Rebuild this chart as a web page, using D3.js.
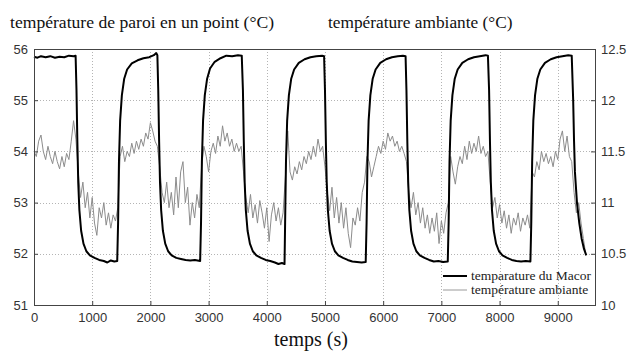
<!DOCTYPE html>
<html>
<head>
<meta charset="utf-8">
<script src="https://cdn.jsdelivr.net/npm/d3@7"></script>
<style>
  body { margin: 0; background: #fff; }
  svg { display: block; }
</style>
</head>
<body>
<div id="chart"></div>
<script>
// temps (s) / température du Macor (°C, axe gauche)
const macorTime = [
  0, 60, 120, 200, 280, 360, 440, 520, 600, 680, 715,
  730, 745, 760, 780, 810, 850, 900, 960, 1040, 1120, 1200, 1260, 1320, 1380, 1430,
  1445, 1460, 1480, 1510, 1550, 1600, 1680, 1780, 1880, 1980, 2060, 2100, 2120,
  2135, 2150, 2165, 2185, 2215, 2255, 2305, 2365, 2445, 2525, 2605, 2685, 2765, 2855,
  2870, 2885, 2905, 2935, 2975, 3025, 3105, 3205, 3305, 3405, 3505, 3570,
  3590, 3605, 3620, 3640, 3670, 3710, 3760, 3820, 3900, 3980, 4060, 4140, 4200, 4260, 4305,
  4315, 4330, 4350, 4380, 4420, 4470, 4550, 4650, 4750, 4850, 4950, 4985,
  5000, 5015, 5030, 5050, 5080, 5120, 5170, 5230, 5310, 5390, 5470, 5550, 5630, 5700,
  5715, 5730, 5750, 5780, 5820, 5870, 5950, 6050, 6150, 6250, 6340, 6385,
  6400, 6415, 6430, 6450, 6480, 6520, 6570, 6630, 6710, 6790, 6870, 6950, 7030, 7110,
  7125, 7140, 7160, 7190, 7230, 7280, 7360, 7460, 7560, 7660, 7760, 7800,
  7820, 7835, 7850, 7870, 7900, 7940, 7990, 8050, 8130, 8210, 8290, 8370, 8450, 8530,
  8545, 8560, 8580, 8610, 8650, 8700, 8780, 8880, 8980, 9080, 9180, 9240,
  9265, 9280, 9295, 9330, 9370, 9410, 9450, 9490
];
const macorTemp = [
  55.85, 55.83, 55.86, 55.84, 55.86, 55.83, 55.85, 55.84, 55.87, 55.86, 55.87,
  55.2, 54.2, 53.4, 52.85, 52.45, 52.2, 52.05, 51.97, 51.92, 51.88, 51.86, 51.83, 51.87, 51.85, 51.86,
  52.6, 53.8, 54.6, 55.1, 55.42, 55.6, 55.72, 55.78, 55.82, 55.84, 55.88, 55.92, 55.88,
  55.2, 54.2, 53.4, 52.85, 52.45, 52.2, 52.05, 51.97, 51.92, 51.9, 51.88, 51.87, 51.88, 51.86,
  52.6, 53.8, 54.6, 55.1, 55.42, 55.62, 55.75, 55.82, 55.87, 55.86, 55.88, 55.87,
  55.2, 54.2, 53.4, 52.85, 52.45, 52.2, 52.05, 51.97, 51.92, 51.88, 51.86, 51.83, 51.8, 51.82, 51.8,
  52.6, 53.8, 54.6, 55.1, 55.42, 55.6, 55.73, 55.8, 55.84, 55.86, 55.87, 55.86,
  55.2, 54.2, 53.4, 52.85, 52.45, 52.2, 52.05, 51.97, 51.92, 51.88, 51.85, 51.84, 51.83, 51.84,
  52.6, 53.8, 54.6, 55.1, 55.42, 55.6, 55.73, 55.8, 55.84, 55.86, 55.87, 55.86,
  55.2, 54.2, 53.4, 52.85, 52.45, 52.2, 52.05, 51.97, 51.92, 51.88, 51.85, 51.86, 51.84, 51.85,
  52.6, 53.8, 54.6, 55.1, 55.42, 55.6, 55.73, 55.8, 55.84, 55.86, 55.88, 55.87,
  55.2, 54.2, 53.4, 52.85, 52.45, 52.2, 52.05, 51.97, 51.92, 51.88, 51.86, 51.85, 51.86, 51.85,
  52.6, 53.8, 54.6, 55.1, 55.42, 55.6, 55.73, 55.8, 55.84, 55.86, 55.88, 55.87,
  55.0, 54.2, 53.6, 53.0, 52.6, 52.3, 52.1, 51.97
];

// température ambiante (°C, axe droit), un relevé toutes les 40 s
const ambientStep = 40;
const ambientTemp = [
  // 0 - 960
  11.50, 11.45, 11.60, 11.66, 11.50, 11.42, 11.55, 11.45, 11.38, 11.50, 11.40, 11.33, 11.45,
  11.35, 11.48, 11.42, 11.60, 11.80, 11.62, 11.30, 11.05, 11.20, 10.95, 11.10, 10.85,
  // 1000 - 1960
  11.05, 10.80, 10.68, 10.95, 10.85, 11.00, 10.78, 10.90, 10.75, 10.88, 10.82, 10.95, 11.45,
  11.55, 11.40, 11.50, 11.45, 11.58, 11.48, 11.60, 11.52, 11.62, 11.55, 11.68, 11.62,
  // 2000 - 2960
  11.78, 11.70, 11.60, 11.55, 11.35, 11.10, 11.00, 11.20, 10.95, 11.10, 10.88, 11.25, 10.95,
  11.30, 11.40, 11.00, 11.15, 10.78, 11.00, 10.85, 11.08, 10.95, 11.35, 11.55, 11.45,
  // 3000 - 3960
  11.30, 11.50, 11.58, 11.48, 11.65, 11.55, 11.75, 11.60, 11.68, 11.55, 11.62, 11.50, 11.58,
  11.50, 11.55, 11.30, 11.05, 10.90, 11.08, 10.85, 10.98, 10.80, 11.02, 10.90, 10.75,
  // 4000 - 4960
  10.95, 10.62, 10.88, 11.00, 10.82, 10.95, 10.78, 10.90, 11.25, 11.70, 11.30, 11.22, 11.35,
  11.28, 11.40, 11.32, 11.45, 11.38, 11.50, 11.42, 11.55, 11.45, 11.62, 11.50, 11.55,
  // 5000 - 5960
  11.35, 11.10, 10.92, 11.15, 10.85, 11.05, 10.80, 11.00, 10.75, 10.95, 10.70, 10.56, 10.85,
  10.78, 10.95, 10.82, 11.10, 11.20, 11.45, 11.40, 11.25, 11.35, 11.45, 11.55, 11.48,
  // 6000 - 6960
  11.60, 11.52, 11.68, 11.60, 11.65, 11.55, 11.60, 11.50, 11.55, 11.48, 11.40, 11.10, 10.95,
  11.10, 10.88, 11.00, 10.80, 10.95, 10.75, 10.88, 10.70, 10.85, 10.72, 10.90, 10.60,
  // 7000 - 7960
  10.82, 10.70, 10.90, 11.00, 11.45, 11.30, 11.18, 11.35, 11.45, 11.38, 11.55, 11.42, 11.60,
  11.48, 11.58, 11.50, 11.65, 11.48, 11.55, 11.45, 11.50, 11.20, 10.95, 11.05, 10.85,
  // 8000 - 8960
  10.98, 10.80, 10.92, 10.75, 10.88, 10.70, 10.85, 10.78, 10.90, 10.72, 10.85, 10.78, 10.88,
  10.75, 11.30, 11.25, 11.40, 11.32, 11.50, 11.40, 11.48, 11.38, 11.45, 11.35, 11.50,
  // 9000 - 9480
  11.42, 11.62, 11.70, 11.50, 11.65, 11.45, 11.40, 11.10, 10.90, 11.00, 10.80, 10.65, 10.50
];

const xTicks = [0, 1000, 2000, 3000, 4000, 5000, 6000, 7000, 8000, 9000];
const leftTicks = [51, 52, 53, 54, 55, 56];
const rightTicks = [10, 10.5, 11, 11.5, 12, 12.5];
const legendLabels = ['temparature du Macor', 'température ambiante'];

const W = 641, H = 353;
const plot = { left: 34, right: 595, top: 49, bottom: 305 };

const svg = d3.select('#chart').append('svg')
  .attr('width', W)
  .attr('height', H);

svg.append('rect').attr('width', W).attr('height', H).attr('fill', '#fff');

const x = d3.scaleLinear().domain([0, 9640]).range([plot.left, plot.right]);
const yL = d3.scaleLinear().domain([51, 56]).range([plot.bottom, plot.top]);
const yR = d3.scaleLinear().domain([10, 12.5]).range([plot.bottom, plot.top]);

// grille pointillée
const grid = svg.append('g').attr('stroke', '#b4b4b4').attr('stroke-width', 1)
  .attr('stroke-dasharray', '1,2').attr('shape-rendering', 'crispEdges');
grid.selectAll('.gx').data(xTicks.slice(1)).join('line')
  .attr('x1', d => Math.round(x(d)) + 0.5).attr('x2', d => Math.round(x(d)) + 0.5)
  .attr('y1', plot.top).attr('y2', plot.bottom);
grid.selectAll('.gy').data(leftTicks.slice(1, -1)).join('line')
  .attr('x1', plot.left).attr('x2', plot.right)
  .attr('y1', d => Math.round(yL(d)) + 0.5).attr('y2', d => Math.round(yL(d)) + 0.5);

// courbes
const ambientLine = d3.line()
  .x((d, i) => x(i * ambientStep))
  .y(d => yR(d));
svg.append('path')
  .datum(ambientTemp)
  .attr('d', ambientLine)
  .attr('fill', 'none')
  .attr('stroke', '#8c8c8c')
  .attr('stroke-width', 1);

const macorLine = d3.line()
  .x((d, i) => x(macorTime[i]))
  .y(d => yL(d));
svg.append('path')
  .datum(macorTemp)
  .attr('d', macorLine)
  .attr('fill', 'none')
  .attr('stroke', '#000')
  .attr('stroke-width', 2)
  .attr('stroke-linejoin', 'round');

// axes
const tickFont = '"Liberation Sans", Arial, sans-serif';
const axBottom = svg.append('g').attr('transform', `translate(0,${plot.bottom})`)
  .call(d3.axisBottom(x).tickValues(xTicks).tickSize(-4).tickPadding(8).tickFormat(d3.format('d')));
const axLeft = svg.append('g').attr('transform', `translate(${plot.left},0)`)
  .call(d3.axisLeft(yL).tickValues(leftTicks).tickSize(-4).tickPadding(6).tickFormat(d3.format('d')));
const axRight = svg.append('g').attr('transform', `translate(${plot.right},0)`)
  .call(d3.axisRight(yR).tickValues(rightTicks).tickSize(-4).tickPadding(6).tickFormat(d => String(d)));

[axBottom, axLeft, axRight].forEach(g => {
  g.select('.domain').remove();
  g.selectAll('.tick line').attr('stroke', '#444');
  g.selectAll('.tick text').attr('fill', '#333')
    .style('font-family', tickFont).style('font-size', '13px');
});

// cadre
svg.append('rect')
  .attr('x', plot.left + 0.5).attr('y', plot.top + 0.5)
  .attr('width', plot.right - plot.left).attr('height', plot.bottom - plot.top)
  .attr('fill', 'none').attr('stroke', '#444').attr('stroke-width', 1);

// titres
const serif = '"Liberation Serif", "Times New Roman", serif';
svg.append('text').attr('x', 10).attr('y', 28)
  .style('font-family', serif).style('font-size', '17.6px').attr('fill', '#111')
  .text('température de paroi en un point (°C)');
svg.append('text').attr('x', 328).attr('y', 28)
  .style('font-family', serif).style('font-size', '17.3px').attr('fill', '#111')
  .text('température ambiante (°C)');
svg.append('text').attr('x', 311).attr('y', 346).attr('text-anchor', 'middle')
  .style('font-family', serif).style('font-size', '20px').attr('fill', '#111')
  .text('temps (s)');

// légende
const legend = svg.append('g').attr('transform', 'translate(443,276)');
const legendStyles = [
  { stroke: '#000', width: 2 },
  { stroke: '#9a9a9a', width: 1 }
];
legendLabels.forEach((label, i) => {
  const row = legend.append('g').attr('transform', `translate(0,${i * 14})`);
  row.append('line').attr('x1', 0).attr('x2', 24).attr('y1', 0).attr('y2', 0)
    .attr('stroke', legendStyles[i].stroke).attr('stroke-width', legendStyles[i].width);
  row.append('text').attr('x', 28).attr('y', 4)
    .style('font-family', serif).style('font-size', '13.5px').attr('fill', '#222')
    .text(label);
});
</script>
</body>
</html>
